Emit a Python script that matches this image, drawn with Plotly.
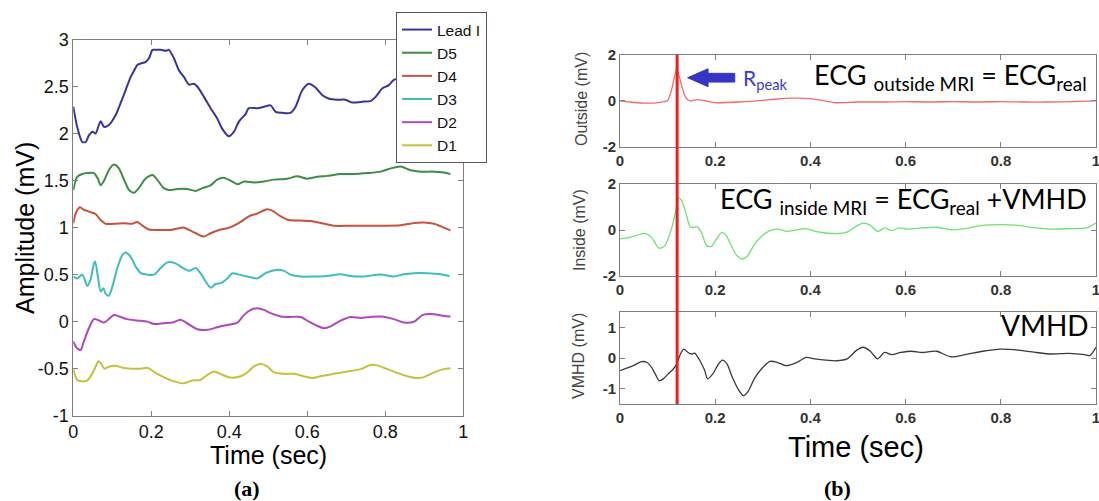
import plotly.graph_objects as go

W, H = 1099, 501

# ---------------- Panel (a) data ----------------
t_lead = [0, 0.01, 0.023, 0.032, 0.04, 0.049, 0.057, 0.07, 0.079, 0.091, 0.109, 0.121, 0.134, 0.147,
          0.156, 0.164, 0.173, 0.185, 0.194, 0.203, 0.211, 0.224, 0.237, 0.245, 0.258, 0.271, 0.284,
          0.297, 0.309, 0.318, 0.335, 0.352, 0.369, 0.382, 0.399, 0.412, 0.425, 0.442, 0.45, 0.472,
          0.489, 0.506, 0.519, 0.536, 0.557, 0.57, 0.587, 0.604, 0.621, 0.638, 0.656, 0.677, 0.698,
          0.715, 0.745, 0.762, 0.775, 0.792, 0.809, 0.822, 0.85, 0.9, 0.965]
v_lead = [2.285, 2.07, 1.91, 1.91, 1.98, 2.02, 2.0, 2.13, 2.07, 2.09, 2.2, 2.32, 2.46, 2.6,
          2.67, 2.73, 2.745, 2.76, 2.8, 2.89, 2.89, 2.89, 2.88, 2.89, 2.8, 2.67, 2.6,
          2.52, 2.53, 2.5, 2.39, 2.27, 2.16, 2.05, 1.97, 2.02, 2.13, 2.21, 2.27, 2.27,
          2.285, 2.3, 2.23, 2.22, 2.22, 2.285, 2.46, 2.53, 2.49, 2.41, 2.37, 2.36, 2.36,
          2.33, 2.34, 2.345, 2.39, 2.48, 2.515, 2.57, 2.6, 2.62, 2.6]

t_d5 = [0, 0.01, 0.023, 0.036, 0.053, 0.063, 0.07, 0.079, 0.091, 0.104, 0.117, 0.13, 0.143, 0.156,
        0.168, 0.185, 0.203, 0.215, 0.232, 0.245, 0.267, 0.292, 0.314, 0.331, 0.352, 0.369, 0.385,
        0.403, 0.421, 0.438, 0.463, 0.489, 0.515, 0.549, 0.574, 0.6, 0.626, 0.651, 0.685, 0.72,
        0.754, 0.788, 0.814, 0.839, 0.865, 0.891, 0.925, 0.95, 0.967]
v_d5 = [1.4, 1.54, 1.57, 1.58, 1.58, 1.52, 1.45, 1.5, 1.61, 1.67, 1.63, 1.51, 1.4, 1.37,
        1.42, 1.52, 1.56, 1.51, 1.42, 1.4, 1.41, 1.41, 1.39, 1.42, 1.45, 1.51, 1.53,
        1.5, 1.46, 1.49, 1.48, 1.49, 1.51, 1.52, 1.545, 1.52, 1.54, 1.55, 1.57, 1.57,
        1.58, 1.595, 1.63, 1.65, 1.61, 1.595, 1.595, 1.585, 1.57]

t_d4 = [0, 0.006, 0.017, 0.027, 0.04, 0.057, 0.07, 0.083, 0.104, 0.13, 0.151, 0.164, 0.181, 0.194,
        0.224, 0.25, 0.267, 0.282, 0.297, 0.314, 0.335, 0.352, 0.374, 0.395, 0.412, 0.429, 0.45,
        0.472, 0.497, 0.51, 0.532, 0.553, 0.583, 0.609, 0.634, 0.668, 0.711, 0.754, 0.797, 0.839,
        0.874, 0.899, 0.925, 0.95, 0.967]
v_d4 = [1.046, 1.15, 1.216, 1.19, 1.17, 1.145, 1.08, 1.04, 1.04, 1.046, 1.04, 1.06, 1.01, 0.98,
        0.975, 0.975, 0.99, 1.0, 0.975, 0.94, 0.905, 0.94, 0.975, 0.993, 1.02, 1.06, 1.12,
        1.15, 1.195, 1.18, 1.12, 1.08, 1.075, 1.07, 1.05, 1.02, 1.02, 1.02, 1.02, 1.025,
        1.05, 1.055, 1.04, 1.0, 0.97]

t_d3 = [0, 0.01, 0.023, 0.036, 0.044, 0.053, 0.056, 0.063, 0.07, 0.077, 0.083, 0.091, 0.1, 0.113,
        0.126, 0.134, 0.147, 0.16, 0.173, 0.19, 0.207, 0.224, 0.241, 0.262, 0.279, 0.297, 0.314,
        0.326, 0.339, 0.352, 0.365, 0.378, 0.395, 0.408, 0.425, 0.446, 0.472, 0.493, 0.519, 0.54,
        0.557, 0.583, 0.617, 0.651, 0.685, 0.711, 0.745, 0.788, 0.822, 0.848, 0.874, 0.908, 0.942,
        0.965]
v_d3 = [0.48, 0.46, 0.5, 0.38, 0.445, 0.62, 0.64, 0.48, 0.32, 0.355, 0.295, 0.275, 0.37, 0.57,
        0.71, 0.735, 0.69, 0.585, 0.515, 0.5, 0.5, 0.57, 0.63, 0.62, 0.575, 0.54, 0.57,
        0.515, 0.43, 0.36, 0.4, 0.41, 0.46, 0.515, 0.5, 0.48, 0.46, 0.515, 0.55, 0.54,
        0.5, 0.48, 0.48, 0.485, 0.505, 0.485, 0.48, 0.5, 0.48, 0.505, 0.515, 0.515, 0.505,
        0.485]

t_d2 = [0, 0.009, 0.019, 0.027, 0.04, 0.053, 0.066, 0.079, 0.091, 0.104, 0.121, 0.138, 0.164, 0.19,
        0.207, 0.232, 0.254, 0.275, 0.292, 0.318, 0.344, 0.369, 0.395, 0.421, 0.438, 0.455, 0.472,
        0.489, 0.506, 0.532, 0.557, 0.583, 0.604, 0.626, 0.643, 0.66, 0.685, 0.711, 0.737, 0.762,
        0.788, 0.822, 0.848, 0.874, 0.895, 0.925, 0.95, 0.967]
v_d2 = [-0.21, -0.28, -0.3, -0.21, -0.07, 0.027, 0.013, -0.01, 0.027, 0.07, 0.05, 0.027, 0.013, 0.0,
        -0.025, -0.017, -0.01, 0.02, -0.017, -0.08, -0.087, -0.06, -0.035, -0.01, 0.072, 0.125, 0.143,
        0.125, 0.09, 0.055, 0.05, 0.05, 0.0, -0.045, -0.07, -0.05, 0.01, 0.05, 0.04, 0.05,
        0.055, 0.027, -0.01, 0.0, 0.07, 0.08, 0.06, 0.055]

t_d1 = [0, 0.01, 0.023, 0.036, 0.049, 0.057, 0.064, 0.07, 0.08, 0.091, 0.109, 0.126, 0.147, 0.173,
        0.19, 0.211, 0.237, 0.258, 0.284, 0.305, 0.326, 0.344, 0.361, 0.382, 0.403, 0.429, 0.446,
        0.463, 0.482, 0.497, 0.515, 0.54, 0.566, 0.591, 0.613, 0.634, 0.668, 0.703, 0.737, 0.762,
        0.779, 0.805, 0.831, 0.856, 0.882, 0.899, 0.925, 0.95, 0.967]
v_d1 = [-0.51, -0.62, -0.635, -0.625, -0.55, -0.48, -0.42, -0.44, -0.5, -0.48, -0.47, -0.49, -0.5, -0.5,
        -0.49, -0.545, -0.6, -0.635, -0.655, -0.625, -0.62, -0.565, -0.53, -0.565, -0.595, -0.58, -0.54,
        -0.475, -0.45, -0.475, -0.54, -0.555, -0.555, -0.58, -0.6, -0.58, -0.555, -0.53, -0.505, -0.46,
        -0.465, -0.505, -0.545, -0.58, -0.6, -0.59, -0.54, -0.505, -0.495]

a_xticks = [0, 0.2, 0.4, 0.6, 0.8, 1]
a_xtext = ["0", "0.2", "0.4", "0.6", "0.8", "1"]
a_yticks = [-1, -0.5, 0, 0.5, 1, 1.5, 2, 2.5, 3]
a_ytext = ["-1", "-0.5", "0", "0.5", "1", "1.5", "2", "2.5", "3"]

# ---------------- Panel (b) data ----------------
t_out = [0, 0.02, 0.05, 0.08, 0.1, 0.108, 0.114, 0.119, 0.124, 0.129, 0.134, 0.139, 0.147, 0.16,
         0.18, 0.2, 0.25, 0.3, 0.33, 0.36, 0.4, 0.43, 0.45, 0.5, 0.55, 0.6, 0.65, 0.7, 0.75, 0.8,
         0.85, 0.9, 0.95, 1.0]
v_out = [0.0, -0.05, -0.1, -0.08, 0.02, 0.45, 1.0, 1.38, 1.1, 0.7, 0.35, 0.12, 0.0, 0.05,
         0.0, -0.08, -0.05, 0.02, 0.08, 0.12, 0.1, 0.0, -0.08, -0.05, -0.05, -0.03, -0.05, -0.03, -0.05, -0.03,
         -0.05, -0.05, -0.03, 0.0]

t_in = [0, 0.021, 0.052, 0.066, 0.082, 0.094, 0.108, 0.119, 0.124, 0.129, 0.139, 0.147, 0.154, 0.161,
        0.171, 0.182, 0.192, 0.203, 0.214, 0.222, 0.233, 0.244, 0.256, 0.267, 0.282, 0.297, 0.312,
        0.331, 0.349, 0.372, 0.391, 0.41, 0.432, 0.455, 0.477, 0.496, 0.511, 0.526, 0.541, 0.556,
        0.571, 0.586, 0.605, 0.635, 0.665, 0.695, 0.725, 0.762, 0.8, 0.837, 0.875, 0.905, 0.942,
        0.98, 1.0]
v_in = [-0.39, -0.32, -0.15, -0.32, -0.79, -0.69, 0.04, 1.0, 1.4, 1.3, 0.7, 0.15, 0.1, 0.15,
        -0.1, -0.69, -0.71, -0.38, -0.1, -0.2, -0.64, -1.07, -1.26, -1.15, -0.64, -0.28, -0.06,
        0.04, -0.06, 0.01, 0.06, -0.06, -0.13, -0.16, -0.09, 0.16, 0.3, 0.2, -0.06, 0.09,
        -0.03, 0.09, 0.04, 0.09, 0.12, 0.01, 0.06, 0.2, 0.23, 0.2, 0.09, 0.04, 0.06,
        0.09, 0.3]

t_vm = [0, 0.014, 0.028, 0.045, 0.056, 0.066, 0.077, 0.082, 0.091, 0.101, 0.112, 0.119, 0.127, 0.134,
        0.143, 0.15, 0.157, 0.168, 0.178, 0.184, 0.195, 0.206, 0.215, 0.225, 0.236, 0.248, 0.259,
        0.27, 0.282, 0.297, 0.315, 0.33, 0.349, 0.372, 0.391, 0.41, 0.432, 0.455, 0.477, 0.496,
        0.511, 0.526, 0.541, 0.556, 0.571, 0.59, 0.612, 0.635, 0.665, 0.695, 0.725, 0.762, 0.8,
        0.837, 0.875, 0.905, 0.942, 0.976, 0.987, 1.0]
v_vm = [-0.41, -0.33, -0.25, -0.12, -0.14, -0.3, -0.61, -0.74, -0.68, -0.52, -0.36, -0.2, 0.13, 0.29,
        0.18, 0.13, 0.16, -0.09, -0.41, -0.68, -0.52, -0.22, -0.07, -0.2, -0.63, -1.01, -1.23,
        -1.07, -0.68, -0.36, -0.11, -0.14, -0.25, -0.14, 0.02, -0.03, -0.07, -0.09, -0.03, 0.24,
        0.35, 0.22, -0.03, 0.18, 0.11, 0.18, 0.22, 0.18, 0.22, 0.04, 0.11, 0.22, 0.29,
        0.26, 0.18, 0.13, 0.15, 0.11, 0.08, 0.35]

r_peak_time = 0.12
b_xticks = [0, 0.2, 0.4, 0.6, 0.8, 1]
b_xtext = ["0", "0.2", "0.4", "0.6", "0.8", "1"]
b_yticks2 = [-2, 0, 2]
b_ytext2 = ["-2", "0", "2"]
b_yticks1 = [-1, 0, 1]
b_ytext1 = ["-1", "0", "1"]

# ---------------- helpers ----------------
def px(x):
    return x / W

def py(y):
    return 1 - y / H

SANS = "Liberation Sans, Arial, sans-serif"
CAL = "Lato, Carlito, sans-serif"
SERIF = "Liberation Serif, Times New Roman, serif"
AXC = "#7f7f7f"

fig = go.Figure()

series_a = [
    ("Lead I", t_lead, v_lead, "#36369a"),
    ("D5", t_d5, v_d5, "#3e8c46"),
    ("D4", t_d4, v_d4, "#c6523f"),
    ("D3", t_d3, v_d3, "#3fbcbc"),
    ("D2", t_d2, v_d2, "#ad48bd"),
    ("D1", t_d1, v_d1, "#c6c03e"),
]
for name, tt, vv, col in series_a:
    fig.add_trace(go.Scatter(x=tt, y=vv, name=name, mode="lines",
                             line=dict(color=col, width=2, shape="spline", smoothing=0.7),
                             xaxis="x", yaxis="y"))

fig.add_trace(go.Scatter(x=t_out, y=v_out, mode="lines", showlegend=False,
                         line=dict(color="#f26a6a", width=1.3, shape="spline", smoothing=0.6),
                         xaxis="x2", yaxis="y2"))
fig.add_trace(go.Scatter(x=t_in, y=v_in, mode="lines", showlegend=False,
                         line=dict(color="#6fe06f", width=1.3, shape="spline", smoothing=0.7),
                         xaxis="x3", yaxis="y3"))
fig.add_trace(go.Scatter(x=t_vm, y=v_vm, mode="lines", showlegend=False,
                         line=dict(color="#3a3a3a", width=1.3, shape="spline", smoothing=0.7),
                         xaxis="x4", yaxis="y4"))

def axis_common(font_size, bold=False, color="#111"):
    return dict(showline=True, linecolor=AXC, linewidth=1, mirror="ticks",
                ticks="inside", ticklen=5, tickcolor=AXC, showgrid=False, zeroline=False,
                automargin=False, ticklabeloverflow="allow",
                tickfont=dict(family=SANS, size=font_size, color=color,
                              weight="bold" if bold else "normal"))

left_dom_x = [px(73.3), px(463.3)]
right_dom_x = [px(620), px(1096)]

layout = dict(
    width=W, height=H, autosize=False,
    margin=dict(l=0, r=0, t=0, b=0, autoexpand=False),
    paper_bgcolor="white", plot_bgcolor="white",
    showlegend=True,
    legend=dict(x=px(396), y=py(12), xanchor="left", yanchor="top",
                bgcolor="white", bordercolor="#555", borderwidth=1,
                font=dict(family=SANS, size=15.5, color="#111"),
                tracegroupgap=0, itemwidth=30),
    xaxis=dict(domain=left_dom_x, range=[0, 1], tickvals=a_xticks, ticktext=a_xtext,
               anchor="y", **axis_common(18)),
    yaxis=dict(domain=[py(415.7), py(39.5)], range=[-1, 3], tickvals=a_yticks, ticktext=a_ytext,
               anchor="x", **axis_common(18)),
    xaxis2=dict(domain=right_dom_x, range=[0, 1], tickvals=b_xticks, ticktext=b_xtext,
                anchor="y2", **axis_common(15, True, "#333")),
    yaxis2=dict(domain=[py(146.7), py(55)], range=[-2, 2], tickvals=b_yticks2, ticktext=b_ytext2,
                anchor="x2", **axis_common(15, True, "#333")),
    xaxis3=dict(domain=right_dom_x, range=[0, 1], tickvals=b_xticks, ticktext=b_xtext,
                anchor="y3", **axis_common(15, True, "#333")),
    yaxis3=dict(domain=[py(276), py(184)], range=[-2, 2], tickvals=b_yticks2, ticktext=b_ytext2,
                anchor="x3", **axis_common(15, True, "#333")),
    xaxis4=dict(domain=right_dom_x, range=[0, 1], tickvals=b_xticks, ticktext=b_xtext,
                anchor="y4", **axis_common(15, True, "#333")),
    yaxis4=dict(domain=[py(404), py(312)], range=[-1.5, 1.5], tickvals=b_yticks1, ticktext=b_ytext1,
                anchor="x4", **axis_common(15, True, "#333")),
)
fig.update_layout(**layout)

# R-peak vertical line across the three right panels
fig.add_shape(type="line", xref="x2", yref="paper", x0=r_peak_time, x1=r_peak_time,
              y0=py(404), y1=py(55), line=dict(color="#e8201e", width=3))

# Blue block arrow pointing to the R peak (subplot 1 data coordinates)
fig.add_shape(type="path", xref="x2", yref="y2",
              path="M 0.142,1.01 L 0.185,1.4 L 0.185,1.2 L 0.241,1.2 L 0.241,0.82 L 0.185,0.82 L 0.185,0.62 Z",
              fillcolor="#3535c8", line=dict(color="#3535c8", width=1))

ann = []
def add_text(text, x, y, size, family=SANS, color="#000", xanchor="center", yanchor="middle", angle=0):
    ann.append(dict(text=text, x=px(x), y=py(y), xref="paper", yref="paper", showarrow=False,
                    xanchor=xanchor, yanchor=yanchor, textangle=angle,
                    font=dict(family=family, size=size, color=color)))

add_text("Amplitude (mV)", 25, 228, 25, angle=-90)
add_text("Time (sec)", 268, 455, 25)
add_text("<b>(a)</b>", 247, 488, 22, family=SERIF)

add_text("Outside (mV)", 581, 99, 16, color="#444", angle=-90)
add_text("Inside (mV)", 580, 230, 16, color="#444", angle=-90)
add_text("VMHD (mV)", 578, 356, 16, color="#444", angle=-90)
add_text("Time (sec)", 856, 447, 29)
add_text("<b>(b)</b>", 837, 488, 22, family=SERIF)

add_text("ECG <sub>outside MRI</sub> = ECG<sub>real</sub>", 1089, 76, 27, family=CAL, xanchor="right")
add_text("ECG <sub>inside MRI</sub> = ECG<sub>real</sub> +VMHD", 1089, 201, 27, family=CAL, xanchor="right")
add_text("VMHD", 1091, 325, 28, family=CAL, xanchor="right")
add_text("R<sub>peak</sub>", 741, 79, 21, family=CAL, color="#3a3ad0", xanchor="left")

fig.update_layout(annotations=ann)

fig.write_html("out.html", config={"displayModeBar": False},
               post_script="document.body.style.margin='0';document.body.style.overflow='hidden';")
